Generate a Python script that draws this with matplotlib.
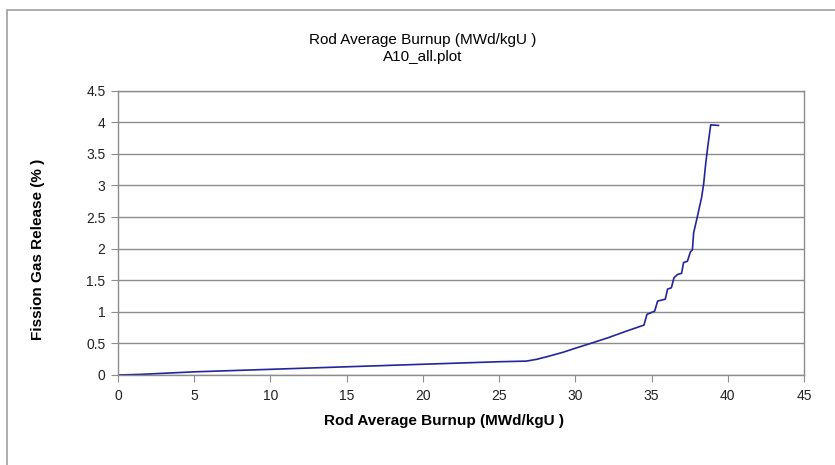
import matplotlib as mpl
mpl.use('Agg')
import matplotlib.pyplot as plt
from matplotlib.patches import Rectangle

plt.rcParams['font.family'] = ['Liberation Sans', 'DejaVu Sans']

# rod average burnup (MWd/kgU) vs fission gas release (%)
burnup = [0, 1.5, 5, 10, 15, 20, 25, 26.8, 27.5, 28.3, 29.2, 29.95, 31.0,
          32.15, 33.3, 34.5, 34.7, 35.2, 35.4, 35.9, 36.05, 36.3, 36.47,
          36.7, 36.97, 37.1, 37.35, 37.55, 37.68, 37.76, 38.0, 38.29, 38.42,
          38.55, 38.68, 38.88, 39.39]
fgr = [0, 0.01, 0.05, 0.09, 0.13, 0.17, 0.21, 0.22, 0.25, 0.30, 0.36, 0.42,
       0.50, 0.59, 0.69, 0.79, 0.96, 1.01, 1.17, 1.20, 1.36, 1.38, 1.54,
       1.59, 1.61, 1.78, 1.80, 1.95, 1.98, 2.25, 2.5, 2.82, 3.03, 3.34, 3.6,
       3.96, 3.95]

xticks = list(range(0, 50, 5))
yticks = [0, 0.5, 1, 1.5, 2, 2.5, 3, 3.5, 4, 4.5]
ytick_labels = ['0', '0.5', '1', '1.5', '2', '2.5', '3', '3.5', '4', '4.5']

fig = plt.figure(figsize=(8.35, 4.65), dpi=100)
fig.patches.append(Rectangle((7/835, -0.1), 1.1, 1 - 10/465 + 0.1,
                             transform=fig.transFigure, fill=False,
                             edgecolor='#a0a0a0', linewidth=1.2))

ax = fig.add_axes([118/835, 1 - 375/465, 686/835, 284.3/465])
ax.plot(burnup, fgr, color='#24249c', linewidth=1.2)

ax.set_xlim(0, 45)
ax.set_ylim(0, 4.5)
ax.set_xticks(xticks)
ax.set_yticks(yticks)
ax.set_yticklabels(ytick_labels)
ax.grid(axis='y', color='#8c8c8c', linewidth=1.0)
ax.set_axisbelow(True)
for s in ax.spines.values():
    s.set_color('#8c8c8c')
    s.set_linewidth(1.0)
ax.tick_params(direction='out', length=5, color='#8c8c8c', labelsize=10,
               labelcolor='#222222')
ax.tick_params(axis='x', pad=5)
ax.tick_params(axis='y', pad=4)

ax.set_xlabel('Rod Average Burnup (MWd/kgU )', fontsize=11, fontweight='bold')
ax.xaxis.set_label_coords((444 - 118) / 686, -(414 - 375) / 284.3)
ax.set_ylabel('Fission Gas Release (% )', fontsize=11, fontweight='bold')
ax.yaxis.set_label_coords(-(118 - 45) / 686, (375 - 249) / 284.3)

fig.text(423/835, 1 - 40/465, 'Rod Average Burnup (MWd/kgU )', fontsize=11,
         ha='center', va='center')
fig.text(423/835, 1 - 57/465, 'A10_all.plot', fontsize=11,
         ha='center', va='center')

fig.savefig('out.png', dpi=100)
